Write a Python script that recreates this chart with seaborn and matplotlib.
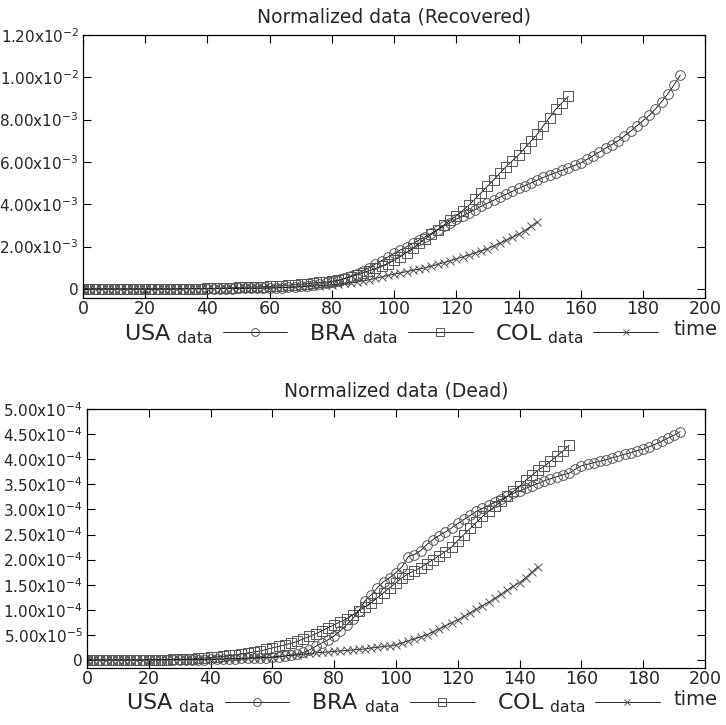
import matplotlib
matplotlib.use('Agg')
import matplotlib.pyplot as plt
import numpy as np
import pandas as pd
import seaborn as sns
from matplotlib.ticker import MultipleLocator, FuncFormatter

# time axis (every 2 days)
t_usa = list(range(0, 193, 2))
t_bra = list(range(0, 157, 2))
t_col = list(range(0, 147, 2))

# recovered, units of 1e-3
usa_rec = [0, 0, 0, 0, 0, 0, 0, 0, 0, 0, 0, 0, 0, 0, 0, 0, 0.01, 0.01, 0.01, 0.01,
           0.01, 0.01, 0.02, 0.02, 0.02, 0.03, 0.03, 0.03, 0.03, 0.04,
           0.04, 0.05, 0.06, 0.08, 0.10, 0.12, 0.15, 0.19, 0.23, 0.28,
           0.33, 0.40, 0.50, 0.61, 0.73, 0.85, 1.01, 1.18, 1.34, 1.51,
           1.68, 1.84, 2.00, 2.15, 2.31, 2.47, 2.63, 2.80, 2.97, 3.14,
           3.30, 3.45, 3.60, 3.75, 3.90, 4.05, 4.19, 4.33, 4.47, 4.61,
           4.75, 4.88, 5.01, 5.14, 5.27, 5.39, 5.50, 5.61, 5.72, 5.84,
           5.95, 6.12, 6.29, 6.47, 6.65, 6.82, 7.00, 7.22, 7.45, 7.70,
           7.95, 8.20, 8.50, 8.85, 9.22, 9.64, 10.1]
bra_rec = [0, 0, 0, 0, 0, 0, 0, 0, 0, 0, 0, 0, 0, 0, 0, 0, 0.01, 0.01, 0.02, 0.02,
           0.03, 0.03, 0.04, 0.05, 0.06, 0.07, 0.08, 0.09, 0.10, 0.11,
           0.12, 0.14, 0.16, 0.18, 0.20, 0.22, 0.25, 0.28, 0.31, 0.33,
           0.36, 0.41, 0.48, 0.57, 0.66, 0.76, 0.86, 0.97, 1.09, 1.20,
           1.35, 1.52, 1.72, 1.92, 2.15, 2.38, 2.58, 2.80, 3.02, 3.25,
           3.45, 3.70, 3.95, 4.25, 4.55, 4.85, 5.15, 5.47, 5.78, 6.05,
           6.33, 6.65, 6.98, 7.30, 7.72, 8.10, 8.50, 8.80, 9.10]
col_rec = [0, 0, 0, 0, 0, 0, 0, 0, 0, 0, 0, 0, 0, 0, 0, 0, 0.01, 0.01, 0.01, 0.01,
           0.01, 0.02, 0.02, 0.02, 0.03, 0.03, 0.03, 0.04, 0.04, 0.05,
           0.05, 0.06, 0.07, 0.08, 0.09, 0.10, 0.12, 0.14, 0.16, 0.18,
           0.20, 0.23, 0.26, 0.30, 0.34, 0.38, 0.44, 0.50, 0.57, 0.64,
           0.70, 0.76, 0.82, 0.88, 0.94, 1.00, 1.08, 1.16, 1.25, 1.33,
           1.42, 1.51, 1.60, 1.70, 1.80, 1.90, 2.03, 2.16, 2.30, 2.44,
           2.58, 2.76, 2.96, 3.17]

# dead, units of 1e-4
usa_dead = [0, 0, 0, 0, 0, 0, 0, 0, 0, 0, 0, 0, 0, 0, 0, 0, 0, 0, 0, 0,
            0.01, 0.01, 0.02, 0.02, 0.02, 0.03, 0.03, 0.03, 0.04, 0.04,
            0.05, 0.06, 0.08, 0.10, 0.12, 0.15, 0.20, 0.27, 0.34, 0.40,
            0.48, 0.58, 0.70, 0.82, 0.98, 1.18, 1.30, 1.44, 1.56, 1.64,
            1.74, 1.86, 2.06, 2.10, 2.18, 2.30, 2.40, 2.48, 2.55, 2.63,
            2.72, 2.80, 2.88, 2.96, 3.02, 3.08, 3.14, 3.20, 3.26, 3.32,
            3.37, 3.42, 3.47, 3.52, 3.57, 3.61, 3.65, 3.69, 3.72, 3.80,
            3.87, 3.90, 3.93, 3.96, 3.99, 4.03, 4.06, 4.10, 4.13, 4.17,
            4.20, 4.25, 4.30, 4.36, 4.42, 4.48, 4.55]
bra_dead = [0, 0, 0, 0, 0, 0, 0, 0, 0, 0, 0, 0, 0, 0, 0.01, 0.01, 0.02, 0.02, 0.03, 0.04,
            0.05, 0.06, 0.07, 0.09, 0.10, 0.12, 0.14, 0.16, 0.18, 0.21,
            0.24, 0.27, 0.30, 0.33, 0.37, 0.42, 0.47, 0.52, 0.58, 0.64,
            0.70, 0.76, 0.82, 0.90, 0.98, 1.06, 1.14, 1.24, 1.34, 1.44,
            1.54, 1.64, 1.72, 1.78, 1.84, 1.92, 2.00, 2.08, 2.16, 2.25,
            2.38, 2.50, 2.62, 2.74, 2.86, 2.96, 3.06, 3.16, 3.26, 3.36,
            3.46, 3.58, 3.68, 3.78, 3.86, 3.96, 4.06, 4.16, 4.28]
col_dead = [0, 0, 0, 0, 0, 0, 0, 0, 0, 0, 0.01, 0.01, 0.01, 0.01, 0.01, 0.01, 0.01, 0.01, 0.01, 0.01,
            0.02, 0.02, 0.02, 0.03, 0.03, 0.03, 0.04, 0.04, 0.05, 0.05,
            0.06, 0.07, 0.08, 0.09, 0.10, 0.11, 0.13, 0.14, 0.15, 0.16,
            0.17, 0.18, 0.19, 0.20, 0.21, 0.22, 0.24, 0.25, 0.27, 0.28,
            0.30, 0.34, 0.38, 0.42, 0.46, 0.50, 0.56, 0.62, 0.68, 0.74,
            0.80, 0.87, 0.94, 1.01, 1.08, 1.15, 1.23, 1.31, 1.39, 1.47,
            1.54, 1.64, 1.75, 1.86]

labels = [r'USA $_{\mathrm{data}}$', r'BRA $_{\mathrm{data}}$', r'COL $_{\mathrm{data}}$']
markers = ['o', 's', 'x']

sns.set_style('white')
plt.rcParams['font.family'] = ['DejaVu Sans']
plt.rcParams['mathtext.fontset'] = 'dejavusans'


def sci_fmt(v, pos):
    if abs(v) < 1e-12:
        return '0'
    e = int(np.floor(np.log10(abs(v)) + 1e-9))
    m = v / 10.0 ** e
    return r'$\mathregular{%.2fx10^{%d}}$' % (m, e)


fig = plt.figure(figsize=(7.26, 7.25), dpi=100)
ax1 = fig.add_axes([0.1143, 0.589, 0.857, 0.3628])
ax2 = fig.add_axes([0.1198, 0.0786, 0.8512, 0.3572])

panels = [
    (ax1, [usa_rec, bra_rec, col_rec], 1e-3, 'Normalized data (Recovered)',
     (-0.000425, 0.012), 0.002, -0.083),
    (ax2, [usa_dead, bra_dead, col_dead], 1e-4, 'Normalized data (Dead)',
     (-0.000016, 0.0005), 0.00005, -0.085),
]

for ax, series, scale, title, ylim, step, tpos in panels:
    for t, vals, lab, mk in zip([t_usa, t_bra, t_col], series, labels, markers):
        df = pd.DataFrame({'time': t, 'value': np.array(vals) * scale})
        sns.lineplot(data=df, x='time', y='value', ax=ax, color='black', lw=0.6,
                     marker=mk, markersize=7 if mk != 'x' else 6,
                     mfc='none', mec='#555555', mew=0.7, label=lab)
    ax.set_xlim(0, 200)
    ax.set_ylim(*ylim)
    ax.xaxis.set_major_locator(MultipleLocator(20))
    ax.yaxis.set_major_locator(MultipleLocator(step))
    ax.yaxis.set_major_formatter(FuncFormatter(sci_fmt))
    ax.tick_params(axis='both', which='major', direction='in', length=6, width=0.8,
                   top=True, right=True, bottom=True, left=True, color='black', pad=3)
    ax.tick_params(axis='x', labelsize=12.5, pad=1.5)
    ax.tick_params(axis='y', labelsize=11)
    for sp in ax.spines.values():
        sp.set_color('black')
        sp.set_linewidth(0.9)
    ax.set_title(title, fontsize=13.5, pad=9)
    ax.set_ylabel('')
    ax.set_xlabel('time', fontsize=14)
    ax.xaxis.set_label_coords(0.985, tpos)
    ax.legend(loc='center', bbox_to_anchor=(0.495, -0.137), ncol=3, frameon=False,
              markerfirst=False, fontsize=16, handlelength=2.9, handletextpad=0.45,
              columnspacing=1.0, numpoints=1, markerscale=0.8)

fig.savefig('out.png', dpi=100)
